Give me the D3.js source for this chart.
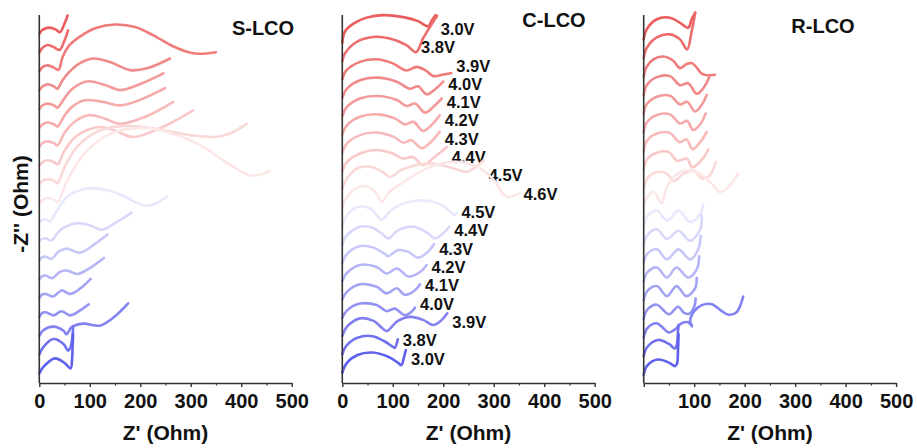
<!DOCTYPE html>
<html lang="en">
<head>
<meta charset="utf-8">
<title>Stacked Nyquist plots</title>
<script src="https://cdn.jsdelivr.net/npm/d3@7"></script>
<style>
body { margin: 0; background: #fff; }
text { font-family: "Liberation Sans", Arial, sans-serif; font-weight: bold; fill: #111; }
</style>
</head>
<body>
<svg id="chart" width="917" height="448"></svg>
<script>
// ---- data ----
// curve order, top to bottom: charge 3.0 -> 4.6 V, then discharge 4.5 -> 3.0 V
var voltages = ["3.0V","3.8V","3.9V","4.0V","4.1V","4.2V","4.3V","4.4V","4.5V","4.6V",
                "4.5V","4.4V","4.3V","4.2V","4.1V","4.0V","3.9V","3.8V","3.0V"];
var charging = [1,1,1,1,1,1,1,1,1,1, 0,0,0,0,0,0,0,0,0];
var samples = ["S-LCO", "C-LCO", "R-LCO"];
var xTicks = [0, 100, 200, 300, 400, 500];
var xMinorTicks = [50, 150, 250, 350, 450];

// each curve: [Z', -Z''] in Ohm
var sLCO = [
  [[0,0],[7,8],[20,12],[33,8],[41,3],[50,20],[56,36]],
  [[0,0],[7,10],[17,15],[30,10],[40,5],[50,24],[57,44]],
  [[0,0],[7,9],[17,12],[30,7],[38,3],[46,28],[59,51],[79,68],[112,86],[150,93],[190,88],[225,72],[265,50],[300,37],[318,35],[350,38]],
  [[0,0],[7,8],[17,12],[30,7],[36,3],[46,20],[59,36],[79,53],[107,63],[140,56],[180,40],[215,44],[259,63]],
  [[0,0],[7,8],[17,11],[30,7],[36,3],[50,22],[65,40],[94,55],[130,48],[160,38],[200,50],[246,71]],
  [[0,0],[7,8],[17,11],[30,7],[36,3],[50,25],[65,42],[90,55],[125,52],[160,45],[200,56],[249,79]],
  [[0,0],[7,8],[17,11],[30,7],[36,3],[50,28],[70,50],[100,63],[130,56],[160,46],[210,60],[265,89]],
  [[0,0],[7,8],[17,11],[30,7],[36,3],[50,30],[75,60],[120,77],[155,68],[186,57],[240,75],[305,110]],
  [[0,0],[7,8],[17,11],[30,7],[36,3],[50,35],[75,75],[114,105],[160,116],[199,115],[246,108],[300,98],[351,95],[385,105],[411,121]],
  [[0,0],[7,8],[17,11],[30,7],[36,3],[55,45],[90,100],[140,138],[200,150],[260,140],[320,115],[370,82],[417,56],[440,58],[457,65]],
  [[0,0],[6,5],[13,6],[21,2],[31,17],[54,50],[80,64],[107,68],[140,63],[166,53],[190,40],[212,33],[232,38],[252,51]],
  [[0,0],[6,5],[13,6],[24,2],[41,22],[74,36],[100,32],[124,23],[153,38],[183,57]],
  [[0,0],[6,6],[13,7],[24,3],[38,17],[54,23],[81,15],[107,30],[135,51]],
  [[0,0],[6,6],[13,7],[26,2],[40,14],[55,17],[75,10],[100,22],[128,42]],
  [[0,0],[6,7],[13,8],[28,3],[44,15],[61,8],[80,18],[102,38]],
  [[0,0],[6,8],[13,9],[28,3],[44,11],[61,3],[81,13],[98,25]],
  [[0,0],[8,11],[28,18],[48,10],[54,3],[64,17],[87,24],[120,20],[147,36],[176,64]],
  [[0,0],[8,15],[28,31],[48,21],[57,8],[62,15],[65,30],[67,55]],
  [[0,0],[8,13],[31,30],[51,20],[62,10],[65,30],[66,55],[67,79]]
];

var cLCO = [
  [[0,0],[5,22],[22,38],[48,50],[81,55],[121,51],[150,43],[170,33],[177,44],[185,55]],
  [[0,0],[5,15],[28,38],[61,48],[94,45],[127,32],[146,18],[160,45],[175,70],[188,90]],
  [[0,0],[8,18],[35,35],[68,40],[100,32],[127,18],[147,25],[165,18],[180,7],[200,10],[216,13]],
  [[0,0],[9,18],[35,35],[68,40],[108,32],[134,18],[150,23],[167,7],[185,18],[200,32]],
  [[0,0],[9,18],[35,35],[68,40],[108,32],[127,20],[144,25],[164,7],[182,20],[197,35]],
  [[0,0],[9,18],[35,35],[68,40],[104,32],[124,20],[141,25],[160,7],[178,20],[193,38]],
  [[0,0],[9,18],[35,35],[68,40],[101,32],[121,20],[137,25],[157,9],[176,22],[193,42]],
  [[0,0],[9,18],[35,35],[68,42],[100,35],[120,25],[140,28],[160,12],[185,30],[207,48]],
  [[0,0],[8,20],[30,42],[55,45],[80,35],[94,25],[120,40],[174,52],[220,42],[245,35],[265,45],[280,58]],
  [[0,0],[8,20],[30,40],[50,42],[68,28],[78,12],[92,30],[121,51],[174,81],[226,91],[270,80],[300,55],[325,22],[349,28]],
  [[0,0],[8,20],[30,38],[55,35],[70,20],[78,12],[95,30],[114,42],[154,51],[190,45],[210,32],[222,22],[226,26]],
  [[0,0],[9,18],[35,35],[60,33],[80,20],[92,12],[110,28],[141,35],[170,22],[183,12],[200,22],[212,35]],
  [[0,0],[9,17],[35,33],[62,30],[85,17],[91,13],[110,25],[130,22],[150,10],[170,22],[182,37]],
  [[0,0],[9,16],[35,32],[68,28],[88,15],[108,25],[131,9],[154,18],[167,32]],
  [[0,0],[9,15],[35,30],[68,25],[88,12],[108,22],[124,9],[144,18],[154,30]],
  [[0,0],[9,14],[35,28],[68,25],[88,13],[104,18],[124,5],[137,12],[144,20]],
  [[0,0],[9,18],[35,35],[62,30],[80,15],[88,10],[110,30],[135,38],[160,32],[180,22],[195,30],[208,45]],
  [[0,0],[8,17],[30,33],[60,36],[85,25],[100,15],[104,13],[108,22],[110,30]],
  [[0,0],[8,18],[30,35],[60,40],[90,32],[110,20],[117,15],[122,30],[126,45]]
];

var rLCO = [
  [[0,0],[6,20],[26,40],[52,43],[72,33],[88,23],[95,40],[102,53]],
  [[0,0],[6,20],[26,41],[52,47],[72,37],[86,17],[95,53],[102,90]],
  [[0,0],[6,20],[20,35],[39,40],[58,32],[72,17],[85,25],[95,27],[105,18],[115,6],[125,3],[141,4]],
  [[0,0],[6,20],[26,36],[52,38],[72,20],[88,24],[105,3],[118,14],[130,36]],
  [[0,0],[6,19],[26,34],[52,36],[72,19],[86,24],[102,5],[115,18],[125,38]],
  [[0,0],[6,20],[26,35],[52,36],[72,18],[86,23],[98,5],[113,18],[123,38]],
  [[0,0],[6,20],[26,35],[52,36],[71,18],[85,23],[97,4],[112,18],[125,38]],
  [[0,0],[6,20],[26,34],[50,35],[66,18],[86,22],[96,5],[115,20],[128,40]],
  [[0,0],[6,18],[24,32],[45,30],[60,15],[80,30],[100,35],[115,20],[130,25],[143,52]],
  [[0,0],[6,18],[20,30],[30,15],[36,7],[46,40],[65,65],[85,73],[112,66],[138,43],[151,30],[170,42],[187,66]],
  [[0,0],[7,18],[26,30],[46,10],[69,30],[92,7],[112,23],[118,43]],
  [[0,0],[7,18],[26,30],[46,11],[69,27],[92,7],[112,30],[115,57]],
  [[0,0],[7,18],[26,27],[46,7],[69,27],[92,7],[108,27],[113,54]],
  [[0,0],[7,18],[26,28],[46,8],[65,28],[88,8],[105,24],[110,50]],
  [[0,0],[7,18],[26,28],[46,8],[65,28],[85,8],[102,24],[105,44]],
  [[0,0],[7,18],[26,28],[50,9],[68,24],[80,12],[90,10],[100,24],[103,40]],
  [[0,0],[7,18],[26,28],[50,10],[62,16],[75,28],[88,30],[96,22],[92,32],[100,52],[115,64],[135,66],[155,52],[168,45],[184,50],[197,81]],
  [[0,0],[7,18],[28,32],[50,24],[62,15],[66,25],[68,50],[69,62]],
  [[0,0],[7,18],[28,30],[50,24],[62,17],[66,22],[68,50],[69,80]]
];

// ---- layout ----
var plotTop = 15, plotBottom = 383;
var paneWidth = 252.4;
var panes = [
  {name: samples[0], curves: sLCO, left: 39.3,  base: 18.8, step: 37.4, title: [263, 35], labels: false, zeroLabel: true},
  {name: samples[1], curves: cLCO, left: 342.3, base: 20.4, step: 36.3, title: [554, 27], labels: true,  zeroLabel: true},
  {name: samples[2], curves: rLCO, left: 643.7, base: 16.4, step: 36.9, title: [823, 33], labels: false, zeroLabel: false}
];
// the 3.8V charge label in C-LCO sits at the curve's dip instead of its end
var labelAnchor = {1: 6};

var redFull = "#ec5c5c", blueFull = "#6060ee";

function curveColor(k) {
  if (charging[k]) return d3.interpolateRgb("#ffffff", redFull)(1 - k * 0.095);
  var j = k - 10; // 0 for 4.5V ... 8 for 3.0V
  return d3.interpolateRgb("#ffffff", blueFull)(0.14 + j * 0.86 / 8);
}

var svg = d3.select("#chart");
var n = voltages.length;

panes.forEach(function (p) {
  var x = d3.scaleLinear().domain([0, 500]).range([p.left, p.left + paneWidth]);
  var yMax = (plotBottom - plotTop) / (paneWidth / 500);
  var y = d3.scaleLinear().domain([0, yMax]).range([plotBottom, plotTop]);
  var g = svg.append("g");

  // curves, shifted up by a constant step each
  p.curves.forEach(function (pts, k) {
    var off = p.base + (n - 1 - k) * p.step;
    var line = d3.line()
      .x(function (d) { return x(d[0]); })
      .y(function (d) { return y(d[1] + off); })
      .curve(d3.curveCatmullRom.alpha(0.5));
    g.append("path")
      .attr("d", line(pts))
      .attr("fill", "none")
      .attr("stroke", curveColor(k))
      .attr("stroke-width", 2.6)
      .attr("stroke-linecap", "round")
      .attr("stroke-linejoin", "round");

    if (p.labels) {
      var a = pts[labelAnchor[k] !== undefined ? labelAnchor[k] : pts.length - 1];
      g.append("text")
        .attr("x", x(a[0]) + 5)
        .attr("y", y(off) - 8)
        .attr("font-size", 16.5)
        .text(voltages[k]);
    }
  });

  // axes
  var major = d3.axisBottom(x).tickValues(xTicks).tickSize(4).tickSizeOuter(0).tickPadding(7)
    .tickFormat(function (d) { return (d === 0 && !p.zeroLabel) ? "" : d; });
  var ax = g.append("g").attr("transform", "translate(0," + plotBottom + ")").call(major);
  ax.selectAll("text").attr("font-size", 20).attr("fill", "#111");
  ax.selectAll("line").attr("stroke", "#333").attr("stroke-width", 1.4);
  ax.select(".domain").attr("stroke", "#333").attr("stroke-width", 1.6);

  var minor = d3.axisBottom(x).tickValues(xMinorTicks).tickSize(2.5).tickSizeOuter(0).tickFormat("");
  var mx = g.append("g").attr("transform", "translate(0," + plotBottom + ")").call(minor);
  mx.select(".domain").remove();
  mx.selectAll("line").attr("stroke", "#333").attr("stroke-width", 1.2);

  g.append("line")
    .attr("x1", x(0)).attr("x2", x(0))
    .attr("y1", plotTop).attr("y2", plotBottom)
    .attr("stroke", "#333").attr("stroke-width", 1.6);

  g.append("text")
    .attr("x", p.left + paneWidth / 2)
    .attr("y", 440)
    .attr("text-anchor", "middle")
    .attr("font-size", 21)
    .text("Z' (Ohm)");

  g.append("text")
    .attr("x", p.title[0])
    .attr("y", p.title[1])
    .attr("text-anchor", "middle")
    .attr("font-size", 20)
    .text(p.name);
});

svg.append("text")
  .attr("transform", "translate(28,204) rotate(-90)")
  .attr("text-anchor", "middle")
  .attr("font-size", 21)
  .text("-Z'' (Ohm)");
</script>
</body>
</html>
